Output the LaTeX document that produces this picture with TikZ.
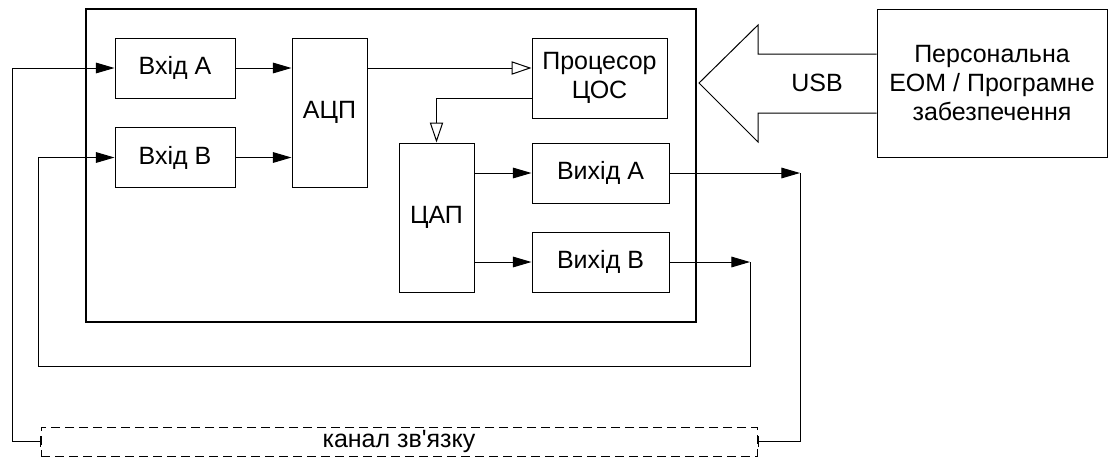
\documentclass[tikz,border=0pt]{standalone}
\usepackage{fontspec}
\setmainfont{Liberation Sans}
\usetikzlibrary{arrows.meta}

\tikzset{every picture/.style={line width=0.75pt}}
\tikzset{
  blok/.style={draw, inner sep=0.75pt, align=center, font=\fontsize{18.75}{21.75}\selectfont},
  napys/.style={inner sep=0.75pt, align=center, font=\fontsize{18.75}{21.75}\selectfont},
  strl/.style={-{Triangle[length=14pt,width=8pt]}},
  vstrl/.style={-{Triangle[open,length=15pt,width=10pt]}},
  kinec/.style={{Bar[width=8pt]}-},
}

\begin{document}
\begin{tikzpicture}[x=0.75pt,y=0.75pt,yscale=-1,xscale=1]
            \useasboundingbox (0,0) rectangle (1108,457);

            %Shape: Rectangle [frame]
            \draw  [line width=1.8pt] (86,9) rectangle (696,322) ;

            %Blocks
            \node [blok, minimum width=90pt, minimum height=45pt] (vhidA) at (175,68) {Вхід А};
            \node [blok, minimum width=90pt, minimum height=45pt] (vhidB) at (175,157.5) {Вхід В};
            \node [blok, minimum width=56.25pt, minimum height=111.75pt] (acp) at (329.5,112.5) {АЦП};
            \node [blok, minimum width=101.25pt, minimum height=60pt] (proc) at (599.5,78) {Процесор\\ЦОС};
            \node [blok, minimum width=56.25pt, minimum height=111.75pt] (cap) at (436.5,217.5) {ЦАП};
            \node [blok, minimum width=102.75pt, minimum height=45pt] (vyhA) at (600.5,173) {Вихід А};
            \node [blok, minimum width=102.75pt, minimum height=45pt] (vyhB) at (600.5,262) {Вихід В};
            \node [blok, minimum width=172.5pt, minimum height=111pt] (pc) at (992,83) {Персональна\\ЕОМ / Програмне\\забезпечення};
            \node [blok, dash pattern={on 6.5pt off 4pt}, minimum width=537pt, minimum height=21.75pt] (kanal) at (399,441.5) {канал зв\textquotesingle язку};

            %Free ends
            \coordinate (tA) at (800,173);
            \coordinate (tB) at (750,262);
            \coordinate (nB) at (38,366);
            \coordinate (nA) at (12,441.5);

            %Shape: USB arrow
            \draw  (pc.west |- 0,54) -- (758,54) -- (758,25) -- (699,83) -- (758,142) -- (758,113) -- (pc.west |- 0,113) ;
            % Text Node
            \node [napys] (usb) at (817,83) {USB};

            %Connectors inside
            \draw  [strl] (vhidA.east) -- (vhidA.east -| acp.west) ;
            \draw  [strl] (vhidB.east) -- (vhidB.east -| acp.west) ;
            \draw  [vstrl] (vhidA.east -| acp.east) -- (vhidA.east -| proc.west) ;
            \draw  [vstrl] (proc.west |- 0,98) -| (cap.north) ;
            \draw  [strl] (cap.east |- vyhA) -- (vyhA.west) ;
            \draw  [strl] (cap.east |- vyhB) -- (vyhB.west) ;

            %Connectors outside
            \draw  [strl] (vyhA.east) -- (tA) ;
            \draw  [strl] (vyhB.east) -- (tB) ;
            \draw  [kinec] (kanal.east) -| (tA) ;
            \draw  [strl] (tB) |- (nB) |- (vhidB.west) ;
            \draw  [kinec] (kanal.west) -- (nA) ;
            \draw  [strl] (nA) |- (vhidA.west) ;

\end{tikzpicture}
\end{document}
